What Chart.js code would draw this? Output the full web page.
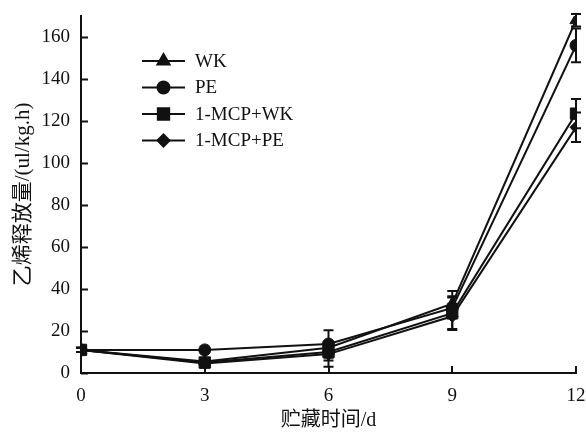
<!DOCTYPE html>
<html>
<head>
<meta charset="utf-8">
<script src="https://cdn.jsdelivr.net/npm/chart.js@4/dist/chart.umd.min.js"></script>
<style>
  html, body { margin: 0; padding: 0; background: #fff; }
  #wrap { width: 586px; height: 433px; }
</style>
</head>
<body>
<div id="wrap"><canvas id="chart" width="586" height="433"></canvas></div>
<script>
// storage days
const days = [0, 3, 6, 9, 12];

// ethylene release, ul/kg.h
const wk = [11, 5.5, 12, 33, 168];
const pe = [11, 11, 13.8, 31, 156];
const mcpWk = [11, 5, 10, 28.5, 123.5];
const mcpPe = [11, 4.5, 9, 27, 117];

// error bars (+/-)
const wkErr = [1, 1.5, 3, 6, 3];
const peErr = [1, 1.5, 6.5, 5, 8];
const mcpWkErr = [1, 2, 4, 8, 7];
const mcpPeErr = [1, 2, 6, 6, 7];

const yTicks = [0, 20, 40, 60, 80, 100, 120, 140, 160];
const xTicks = [0, 3, 6, 9, 12];

const serif = "'Liberation Serif', 'DejaVu Serif', serif";
const titleFont = "'Liberation Serif', 'Noto Sans CJK SC', serif";

function pts(ys) {
    return days.map((d, i) => ({ x: d, y: ys[i] }));
}

function series(label, ys, errs, style, radius) {
    return {
        label: label,
        data: pts(ys),
        errors: errs,
        borderColor: '#111',
        backgroundColor: '#111',
        borderWidth: 2,
        pointStyle: style,
        pointRadius: radius,
        pointBorderWidth: 1,
        pointBackgroundColor: '#111',
        pointBorderColor: '#111',
        tension: 0
    };
}

// error bars under the markers
const errorBars = {
    id: 'errorBars',
    beforeDatasetsDraw(chart) {
        const ctx = chart.ctx;
        const yScale = chart.scales.y;
        ctx.save();
        ctx.strokeStyle = '#111';
        ctx.lineWidth = 2;
        chart.data.datasets.forEach((ds, di) => {
            const meta = chart.getDatasetMeta(di);
            meta.data.forEach((p, i) => {
                const v = ds.data[i].y;
                const e = ds.errors[i];
                const top = yScale.getPixelForValue(v + e);
                const bot = yScale.getPixelForValue(v - e);
                ctx.beginPath();
                ctx.moveTo(p.x, top);
                ctx.lineTo(p.x, bot);
                ctx.moveTo(p.x - 5, top);
                ctx.lineTo(p.x + 5, top);
                ctx.moveTo(p.x - 5, bot);
                ctx.lineTo(p.x + 5, bot);
                ctx.stroke();
            });
        });
        ctx.restore();
    }
};

// inward tick marks + legend inside the plot
const decorations = {
    id: 'decorations',
    afterDraw(chart) {
        const ctx = chart.ctx;
        const { x, y } = chart.scales;
        const area = chart.chartArea;
        ctx.save();
        ctx.strokeStyle = '#111';
        ctx.lineWidth = 2;
        ctx.beginPath();
        yTicks.forEach(v => {
            const py = Math.round(y.getPixelForValue(v)) + 0.5;
            ctx.moveTo(area.left, py);
            ctx.lineTo(area.left + 7, py);
        });
        xTicks.forEach(v => {
            const px = Math.round(x.getPixelForValue(v));
            ctx.moveTo(px, area.bottom);
            ctx.lineTo(px, area.bottom - 7);
        });
        ctx.stroke();

        // legend
        const lx = area.left + 61;
        let ly = area.top + 45;
        chart.data.datasets.forEach(ds => {
            ctx.beginPath();
            ctx.moveTo(lx, ly);
            ctx.lineTo(lx + 43, ly);
            ctx.stroke();
            Chart.helpers.drawPoint(ctx, {
                pointStyle: ds.pointStyle,
                radius: ds.pointRadius,
                borderWidth: 1,
                rotation: 0
            }, lx + 21.5, ly);
            ctx.fillStyle = '#111';
            ctx.fill();
            ctx.font = '19px ' + serif;
            ctx.textBaseline = 'middle';
            ctx.textAlign = 'left';
            ctx.fillText(ds.label, lx + 53, ly + 1);
            ly += 26.5;
        });
        ctx.restore();
    }
};

new Chart(document.getElementById('chart'), {
    type: 'line',
    data: {
        datasets: [
            series('WK', wk, wkErr, 'triangle', 7),
            series('PE', pe, peErr, 'circle', 6),
            series('1-MCP+WK', mcpWk, mcpWkErr, 'rect', 8),
            series('1-MCP+PE', mcpPe, mcpPeErr, 'rectRot', 6)
        ]
    },
    options: {
        responsive: false,
        animation: false,
        layout: { padding: { top: 16, right: 10, left: 0, bottom: 0 } },
        plugins: {
            legend: { display: false },
            tooltip: { enabled: false }
        },
        scales: {
            x: {
                type: 'linear',
                min: 0,
                max: 12,
                afterBuildTicks(s) { s.ticks = xTicks.map(v => ({ value: v })); },
                afterFit(s) {
                    s.height = 60;
                    s.paddingLeft = 0;
                    s.paddingRight = 0;
                },
                grid: { display: true, drawOnChartArea: false, drawTicks: false },
                border: { display: true, color: '#111', width: 2 },
                ticks: {
                    color: '#111',
                    padding: 12,
                    maxRotation: 0,
                    font: { family: serif, size: 19 }
                },
                title: {
                    display: true,
                    text: '贮藏时间/d',
                    color: '#111',
                    padding: { top: 0, bottom: 0 },
                    font: { family: titleFont, size: 20 }
                }
            },
            y: {
                min: 0,
                max: 170,
                afterBuildTicks(s) { s.ticks = yTicks.map(v => ({ value: v })); },
                afterFit(s) {
                    s.width = 81;
                    s.paddingTop = 0;
                    s.paddingBottom = 0;
                },
                grid: { display: true, drawOnChartArea: false, drawTicks: false },
                border: { display: true, color: '#111', width: 2 },
                ticks: {
                    color: '#111',
                    padding: 11,
                    font: { family: serif, size: 19 }
                },
                title: {
                    display: true,
                    text: '乙烯释放量/(ul/kg.h)',
                    color: '#111',
                    padding: { top: 11, bottom: 0 },
                    font: { family: titleFont, size: 21 }
                }
            }
        }
    },
    plugins: [errorBars, decorations]
});
</script>
</body>
</html>
